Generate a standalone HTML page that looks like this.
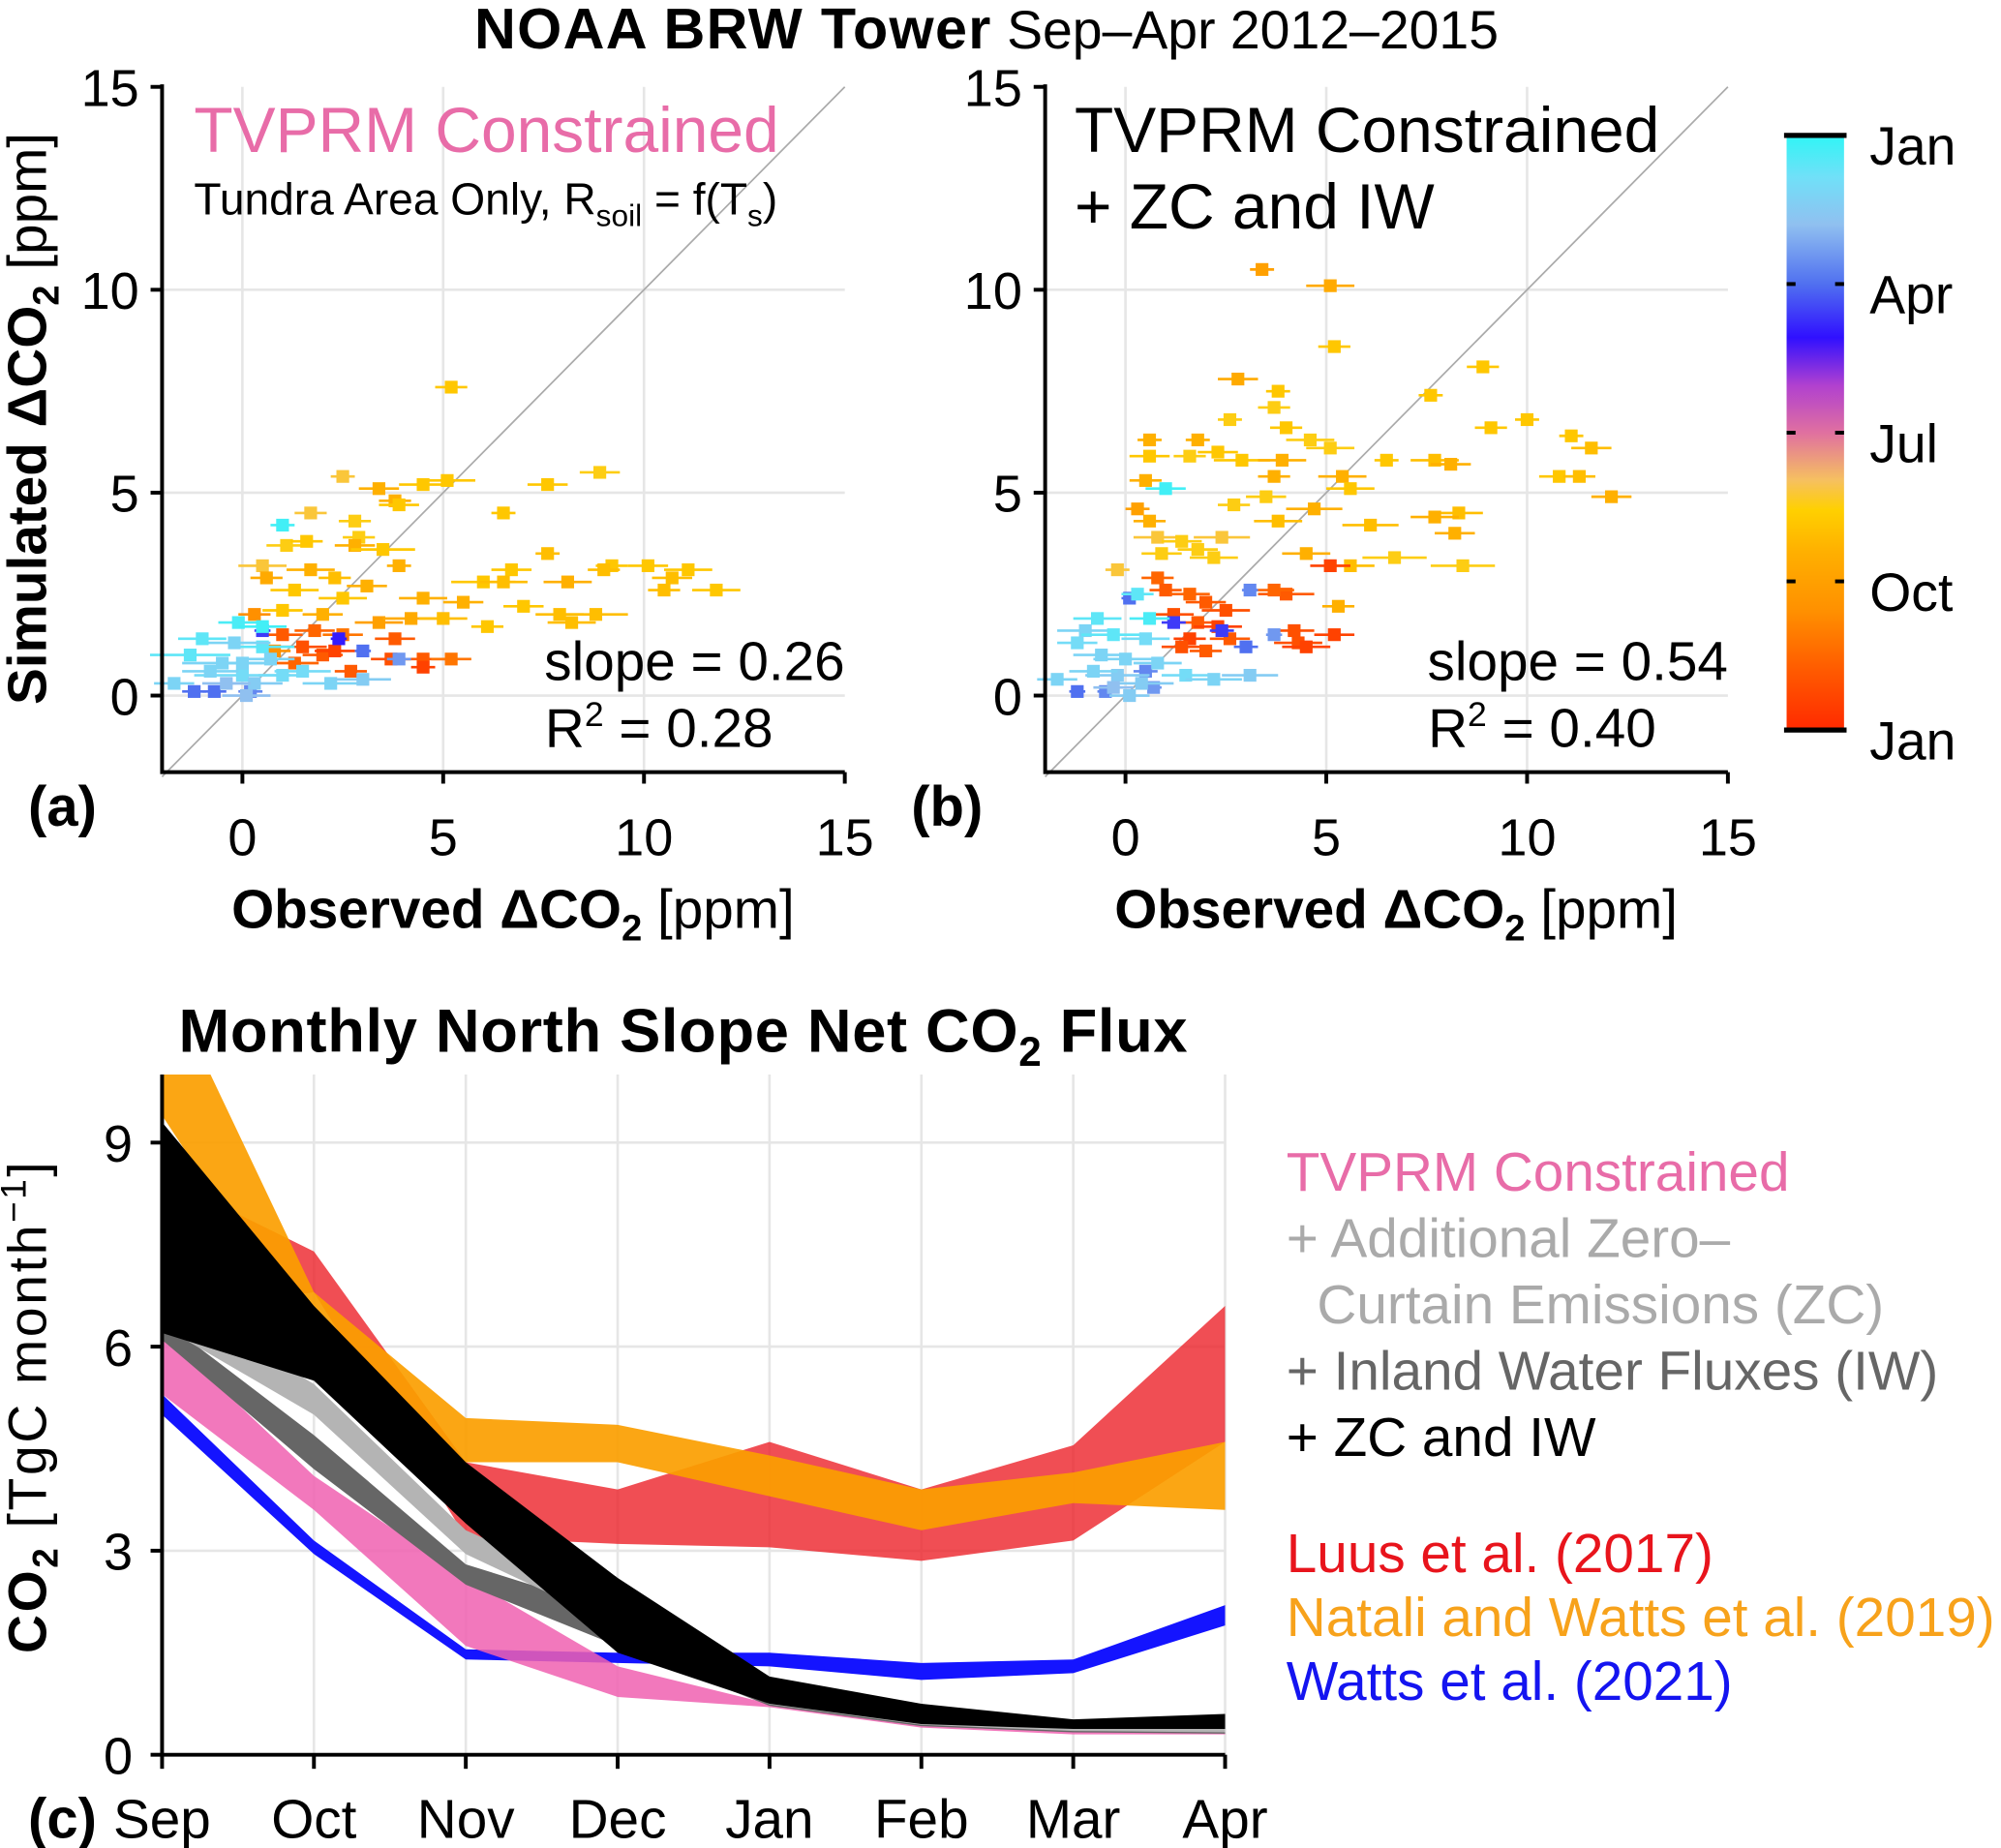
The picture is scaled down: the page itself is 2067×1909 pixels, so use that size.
<!DOCTYPE html>
<html><head><meta charset="utf-8"><style>
html,body{margin:0;padding:0;background:#fff}
svg{display:block}
text{font-family:"Liberation Sans",Arial,sans-serif}
</style></head><body>
<svg id="fig" width="2067" height="1909" viewBox="0 0 1568 1448" xmlns="http://www.w3.org/2000/svg">
<text x="773" y="38" text-anchor="middle" font-size="45"><tspan font-weight="bold" letter-spacing="1">NOAA BRW Tower</tspan><tspan font-size="42"> Sep–Apr 2012–2015</tspan></text>
<g id="pa"></g>
<g id="pb"></g>
<g id="cb"></g>
<g id="pc"></g>
</svg>
<script>
// ---- data ----
const scatterA = [[5.2,7.6,.4,.35],[2.5,5.4,.3,.4],[3.4,5.1,.5,.3],[4.5,5.2,.6,.35],[5.1,5.3,.7,.35],[7.6,5.2,.5,.35],[8.9,5.5,.5,.38],[3.8,4.8,.4,.3],[3.9,4.7,.5,.35],[6.5,4.5,.3,.35],[1.7,4.5,.4,.4],[2.8,4.3,.4,.38],[2.9,3.9,.4,.38],[1.1,3.7,.5,.38],[1.6,3.8,.4,.35],[2.8,3.7,.5,.3],[3.5,3.6,.8,.35],[7.6,3.5,.3,.33],[0.5,3.2,.6,.4],[1.7,3.1,.6,.3],[3.9,3.2,.3,.3],[6.7,3.1,.5,.35],[9.2,3.2,.4,.35],[10.1,3.2,.5,.35],[11.1,3.1,.6,.35],[10.7,2.9,.5,.33],[9.0,3.1,.4,.33],[0.6,2.9,.4,.28],[2.3,2.9,.4,.33],[3.1,2.7,.5,.3],[6.0,2.8,.8,.35],[6.5,2.8,.6,.33],[8.1,2.8,.6,.3],[1.3,2.6,.6,.35],[2.5,2.4,.6,.35],[4.5,2.4,.6,.3],[5.5,2.3,.5,.3],[11.8,2.6,.6,.35],[10.5,2.6,.4,.33],[7.0,2.2,.5,.35],[7.9,2.0,.6,.33],[8.8,2.0,.8,.33],[0.3,2.0,.4,.2],[1.0,2.1,.5,.35],[2.0,2.0,.5,.3],[3.4,1.8,.6,.25],[4.2,1.9,.7,.28],[5.0,1.9,.6,.33],[6.1,1.7,.4,.35],[8.2,1.8,.6,.33],
[1.0,1.5,.5,.1],[1.5,1.2,.6,.08],[2.0,1.0,.5,.1],[1.3,0.8,.6,.12],[2.3,1.1,.5,.05],[2.7,0.6,.4,.1],[3.7,0.9,.5,.08],[4.5,0.9,.6,.1],[5.2,0.9,.5,.15],[4.5,0.7,.3,.05],[3.8,1.4,.5,.1],[2.5,1.5,.5,.15],[1.8,1.6,.5,.12],[0.8,1.1,.4,.2],
[2.4,1.4,.2,.67],[3.0,1.1,.2,.75],[3.9,0.9,.3,.8],[0.5,1.6,.2,.7],[-1.2,0.1,.3,.75],[-0.7,0.1,.3,.75],[0.2,0.1,.3,.78],
[1.0,4.2,.3,.98],[0.0,0.5,1.2,.92],[-0.5,0.8,1.0,.9],[-1.3,1.0,1.0,.95],[-1.7,0.3,.5,.9],[0.5,1.2,.8,.95],[0.3,0.3,.7,.88],[-0.2,1.3,.9,.9],[1.0,0.5,.6,.92],[2.2,0.3,.7,.9],[3.0,0.4,.7,.88],[-1.0,1.4,.6,.95],[-0.4,0.3,.6,.85],[0.7,0.9,.6,.9],[0.1,0.0,.6,.85],[-0.1,1.8,.5,.97],[0.5,1.7,.6,.98],[0.0,0.8,.6,.9],[1.5,0.6,.7,.92],[-0.8,0.6,.7,.9]];
const scatterB = [[3.4,10.5,.3,.25],[5.1,10.1,.6,.28],[5.2,8.6,.4,.35],[2.8,7.8,.5,.28],[3.8,7.5,.3,.35],[3.7,7.1,.4,.38],[8.9,8.1,.4,.35],[7.6,7.4,.3,.35],[2.6,6.8,.3,.38],[4.0,6.6,.4,.35],[4.6,6.3,.6,.38],[5.1,6.1,.6,.38],[0.6,6.3,.3,.3],[1.8,6.3,.3,.3],[2.3,6.0,.5,.35],[1.6,5.9,.4,.38],[0.6,5.9,.5,.35],[2.9,5.8,.7,.35],[3.9,5.8,.6,.3],[6.5,5.8,.3,.35],[7.7,5.8,.6,.33],[8.1,5.7,.5,.3],[10.0,6.8,.3,.35],[9.1,6.6,.4,.35],[11.1,6.4,.3,.35],[11.6,6.1,.5,.33],[10.8,5.4,.5,.35],[11.3,5.4,.4,.33],[12.1,4.9,.5,.3],[0.5,5.3,.4,.3],[3.7,5.4,.4,.3],[5.4,5.4,.6,.3],[5.6,5.1,.6,.35],[3.5,4.9,.5,.38],[2.7,4.7,.4,.38],[4.7,4.6,.7,.3],[0.3,4.6,.3,.25],[8.3,4.5,.6,.33],[7.7,4.4,.6,.3],[0.6,4.3,.4,.3],[3.8,4.3,.6,.33],[6.1,4.2,.7,.33],[8.2,4.0,.5,.3],[0.8,3.9,.6,.4],[1.4,3.8,.5,.38],[2.4,3.9,.7,.4],[1.8,3.6,.5,.38],[2.2,3.4,.6,.38],[0.9,3.5,.5,.38],[4.5,3.5,.6,.3],[6.7,3.4,.8,.38],[8.4,3.2,.8,.38],[5.6,3.2,.6,.33],[-0.2,3.1,.3,.4],[5.3,2.2,.4,.3],
[0.8,2.9,.4,.12],[1.0,2.6,.4,.1],[1.6,2.5,.5,.12],[2.0,2.3,.5,.1],[2.5,2.1,.6,.08],[1.2,2.0,.5,.08],[1.8,1.8,.6,.1],[2.3,1.7,.6,.05],[1.6,1.4,.4,.05],[2.6,1.4,.5,.1],[4.2,1.6,.5,.08],[4.3,1.3,.6,.08],[5.2,1.5,.5,.05],[4.5,1.2,.6,.05],[4.0,2.5,.7,.1],[3.7,2.6,.5,.12],[1.4,1.2,.5,.08],[2.0,1.1,.4,.1],[5.1,3.2,.5,.05],
[0.1,2.4,.2,.75],[1.2,1.8,.3,.7],[2.4,1.6,.3,.7],[3.0,1.2,.3,.75],[3.1,2.6,.2,.78],[3.7,1.5,.2,.8],[-1.2,0.1,.2,.75],[-0.5,0.1,.2,.78],[0.7,0.2,.2,.8],[0.5,0.6,.3,.78],
[1.0,5.1,.5,.98],[0.3,2.5,.4,.95],[-0.7,1.9,.6,.95],[-1.0,1.6,.7,.9],[-0.3,1.5,.8,.95],[0.5,1.4,.6,.92],[-1.2,1.3,.5,.92],[-0.6,1.0,.7,.9],[0.0,0.9,.8,.9],[0.8,0.8,.6,.9],[-1.7,0.4,.5,.9],[-0.2,0.5,.8,.88],[0.4,0.3,.8,.88],[1.5,0.5,.6,.92],[2.2,0.4,.7,.9],[3.1,0.5,.7,.88],[-0.3,0.2,.5,.85],[0.1,0.0,.5,.88],[-0.8,0.6,.6,.9],[0.6,1.9,.5,.97]];
const scatterTicks = [0,5,10,15];
const months = ["Sep","Oct","Nov","Dec","Jan","Feb","Mar","Apr"];
const fluxTicks = [0,3,6,9];
const luusLo = [6.5,6.8,3.2,3.1,3.05,2.85,3.15,4.6];
const luusHi = [8.5,7.4,4.3,3.9,4.6,3.9,4.55,6.6];
const nataliLo = [9.4,6.0,4.3,4.3,3.8,3.3,3.7,3.6];
const nataliHi = [11.5,6.8,4.95,4.85,4.4,3.9,4.15,4.6];
const watts21Lo = [5.0,2.95,1.4,1.35,1.3,1.1,1.2,1.9];
const watts21Hi = [5.3,3.15,1.55,1.5,1.5,1.35,1.4,2.2];
const tvprmLo = [5.3,3.6,1.6,0.85,0.7,0.4,0.3,0.3];
const tvprmHi = [6.2,4.1,2.6,1.3,0.75,0.45,0.35,0.32];
const iwLo = [6.1,4.2,2.5,1.6,0.72,0.42,0.33,0.31];
const iwHi = [6.4,4.7,2.8,2.1,0.8,0.5,0.38,0.36];
const zcLo = [6.3,5.0,2.95,1.9,0.74,0.44,0.35,0.33];
const zcHi = [6.8,5.45,3.3,2.3,0.9,0.6,0.45,0.45];
const zciwLo = [6.2,5.5,3.4,1.5,0.75,0.45,0.38,0.38];
const zciwHi = [9.3,6.6,4.3,2.6,1.15,0.75,0.52,0.6];

const NS="http://www.w3.org/2000/svg";
function mk(parent,tag,attrs,text){const e=document.createElementNS(NS,tag);for(const k in attrs)e.setAttribute(k,attrs[k]);if(text!==undefined)e.textContent=text;parent.appendChild(e);return e;}
const stops=[[0,[255,42,0]],[0.1,[255,90,0]],[0.2,[255,144,0]],[0.3,[255,176,0]],[0.37,[255,208,0]],[0.42,[246,192,96]],[0.5,[224,112,160]],[0.58,[176,64,208]],[0.66,[48,16,255]],[0.75,[80,112,240]],[0.85,[144,192,240]],[0.93,[112,224,248]],[1,[48,245,245]]];
function cmap(c){for(let i=1;i<stops.length;i++){if(c<=stops[i][0]){const a=stops[i-1],b=stops[i],t=(c-a[0])/(b[0]-a[0]);return "rgb("+a[1].map((v,j)=>Math.round(v+(b[1][j]-v)*t)).join(",")+")";}}return "rgb(48,245,245)";}

function scatterPanel(g,x0,data,label){
  const X=v=>x0+(v+2)*31.47, Y=v=>545-v*31.8;
  for(const t of [0,5,10]){
    const gl=mk(g,"line",{x1:X(t),x2:X(t),y1:68,y2:605,stroke:"#e6e6e6","stroke-width":2});
    
    const gh=mk(g,"line",{x1:x0,x2:x0+535,y1:Y(t),y2:Y(t),stroke:"#e6e6e6","stroke-width":2});
    
  }
  const d=mk(g,"line",{x1:X(-2),y1:Y(-2),x2:X(15),y2:Y(15),stroke:"#aaa","stroke-width":1.3});
  
  for(const p of data){
    const col=cmap(p[3]);
    const eb=mk(g,"line",{x1:X(p[0]-p[2]),x2:X(p[0]+p[2]),y1:Y(p[1]),y2:Y(p[1]),stroke:col,"stroke-width":2});
    
    const pt=mk(g,"rect",{x:X(p[0])-5,y:Y(p[1])-5,width:10,height:10,fill:col});
    
    
  }
  mk(g,"path",{d:`M${x0} 66 V605 H${x0+535}`,fill:"none",stroke:"#000","stroke-width":3});
  for(const t of scatterTicks){
    mk(g,"line",{x1:X(t),x2:X(t),y1:605,y2:614,stroke:"#000","stroke-width":3});
    const tx=mk(g,"text",{x:X(t),y:670,"text-anchor":"middle","font-size":41},t);
    
    mk(g,"line",{x1:x0-9,x2:x0,y1:Y(t),y2:Y(t),stroke:"#000","stroke-width":3});
    const ty=mk(g,"text",{x:x0-18,y:Y(t)+15,"text-anchor":"end","font-size":41},t);
    
  }
  const pl=mk(g,"text",{x:x0-105,y:647,"font-size":44,"font-weight":"bold"},label);
  
  const xt=mk(g,"text",{x:x0+275,y:727,"text-anchor":"middle","font-size":43},"");
  
  xt.innerHTML='<tspan font-weight="bold">Observed ΔCO</tspan><tspan font-weight="bold" font-size="29" dy="10">2</tspan><tspan dy="-10"> [ppm]</tspan>';
  return {X,Y};
}
const ga=document.getElementById("pa"), gb=document.getElementById("pb");
scatterPanel(ga,127,scatterA,"(a)");
scatterPanel(gb,819,scatterB,"(b)");
let t;
t=mk(ga,"text",{x:0,y:0,transform:"translate(36,328) rotate(-90)","text-anchor":"middle","font-size":43});

t.innerHTML='<tspan font-weight="bold">Simulated ΔCO</tspan><tspan font-weight="bold" font-size="29" dy="10">2</tspan><tspan dy="-10"> [ppm]</tspan>';
t=mk(ga,"text",{x:152,y:119,"font-size":50,fill:"#e86ca8"},"TVPRM Constrained");
t=mk(ga,"text",{x:152,y:168,"font-size":35});
t.innerHTML='Tundra Area Only, R<tspan font-size="24" dy="9">soil</tspan><tspan dy="-9"> = f(T</tspan><tspan font-size="24" dy="9">s</tspan><tspan dy="-9">)</tspan>';
t=mk(ga,"text",{x:662,y:533,"text-anchor":"end","font-size":43},"slope = 0.26");
t=mk(ga,"text",{x:427,y:585,"font-size":43});t.innerHTML='R<tspan font-size="27" dy="-16">2</tspan><tspan dy="16"> = 0.28</tspan>';
t=mk(gb,"text",{x:842,y:119,"font-size":50},"TVPRM Constrained");
t=mk(gb,"text",{x:842,y:179,"font-size":50},"+ ZC and IW");
t=mk(gb,"text",{x:1354,y:533,"text-anchor":"end","font-size":43},"slope = 0.54");
t=mk(gb,"text",{x:1119,y:585,"font-size":43});t.innerHTML='R<tspan font-size="27" dy="-16">2</tspan><tspan dy="16"> = 0.40</tspan>';

// colorbar
const cb=document.getElementById("cb");
const defs=mk(cb,"defs",{});const lg=mk(defs,"linearGradient",{id:"cg",x1:0,y1:1,x2:0,y2:0});
for(const s of stops) mk(lg,"stop",{offset:s[0],"stop-color":cmap(s[0])});
mk(cb,"rect",{x:1400,y:106,width:45,height:466,fill:"url(#cg)"});
mk(cb,"line",{x1:1398,x2:1447,y1:106,y2:106,stroke:"#000","stroke-width":4});
mk(cb,"line",{x1:1398,x2:1447,y1:572,y2:572,stroke:"#000","stroke-width":4});
const cbl=["Jan","Apr","Jul","Oct","Jan"];
cbl.forEach((m,i)=>{const y=106+i*116.5;
  if(i>0&&i<4){mk(cb,"line",{x1:1400,x2:1407,y1:y,y2:y,stroke:"#000","stroke-width":3});mk(cb,"line",{x1:1438,x2:1445,y1:y,y2:y,stroke:"#000","stroke-width":3});}
  const tx=mk(cb,"text",{x:1465,y:y+23,"font-size":42},m);});

// panel c
const gc=document.getElementById("pc");
const CX=i=>127+i*119, CY=v=>1375-v*53.3;
t=mk(gc,"text",{x:140,y:824,"font-size":48,"font-weight":"bold","letter-spacing":"0.5"});
t.innerHTML='Monthly North Slope Net CO<tspan font-size="32" dy="11">2</tspan><tspan dy="-11"> Flux</tspan>';
const clip=mk(mk(gc,"defs",{}),"clipPath",{id:"cc"});mk(clip,"rect",{x:127,y:842,width:833,height:533});
for(const v of fluxTicks){const l=mk(gc,"line",{x1:127,x2:960,y1:CY(v),y2:CY(v),stroke:"#e6e6e6","stroke-width":2});}
months.forEach((m,i)=>{const l=mk(gc,"line",{x1:CX(i),x2:CX(i),y1:842,y2:1375,stroke:"#e6e6e6","stroke-width":2});});
const bandG=mk(gc,"g",{"clip-path":"url(#cc)"});
function band(lo,hi,fill,op,name){
  let d="M"+hi.map((v,i)=>CX(i)+" "+CY(v)).join(" L")+" L"+lo.map((v,i)=>CX(i)+" "+CY(v)).reverse().join(" L")+"Z";
  const p=mk(bandG,"path",{d,fill,"fill-opacity":op});
  
}
band(luusLo,luusHi,"#ec1c24",0.78,"band-luus-2017");
band(nataliLo,nataliHi,"#fb9e00",0.92,"band-natali-watts-2019");
band(watts21Lo,watts21Hi,"#1414ff",1,"band-watts-2021");
band(tvprmLo,tvprmHi,"#f060b0",0.85,"band-tvprm");
band(iwLo,iwHi,"#666",1,"band-iw");
band(zcLo,zcHi,"#b4b4b4",1,"band-zc");
band(zciwLo,zciwHi,"#000",1,"band-zc-iw");
mk(gc,"path",{d:"M127 842 V1375 H960",fill:"none",stroke:"#000","stroke-width":3});
months.forEach((m,i)=>{mk(gc,"line",{x1:CX(i),x2:CX(i),y1:1375,y2:1386,stroke:"#000","stroke-width":3});
  const tx=mk(gc,"text",{x:CX(i),y:1440,"text-anchor":"middle","font-size":43},m);});
for(const v of fluxTicks){mk(gc,"line",{x1:118,x2:127,y1:CY(v),y2:CY(v),stroke:"#000","stroke-width":3});
  const tx=mk(gc,"text",{x:104,y:CY(v)+15,"text-anchor":"end","font-size":41},v);}
t=mk(gc,"text",{x:22,y:1440,"font-size":44,"font-weight":"bold"},"(c)");
t=mk(gc,"text",{x:0,y:0,transform:"translate(36,1102) rotate(-90)","text-anchor":"middle","font-size":42,"letter-spacing":"2"});

t.innerHTML='<tspan font-weight="bold">CO</tspan><tspan font-weight="bold" font-size="28" dy="9">2</tspan><tspan dy="-9"> [TgC month</tspan><tspan font-size="28" dy="-16">−1</tspan><tspan dy="16">]</tspan>';
const leg=[["TVPRM Constrained","#e86ca8",933,1008],["+ Additional Zero–","#aaaaaa",985,1008],["Curtain Emissions (ZC)","#aaaaaa",1037,1032],["+ Inland Water Fluxes (IW)","#666666",1089,1008],["+ ZC and IW","#000",1141,1008],["Luus et al. (2017)","#e8141c",1232,1008],["Natali and Watts et al. (2019)","#f7a21b",1282,1008],["Watts et al. (2021)","#1414f0",1332,1008]];
for(const l of leg){const tx=mk(gc,"text",{x:l[3],y:l[2],"font-size":43,fill:l[1]},l[0]);}
</script>
</body></html>
